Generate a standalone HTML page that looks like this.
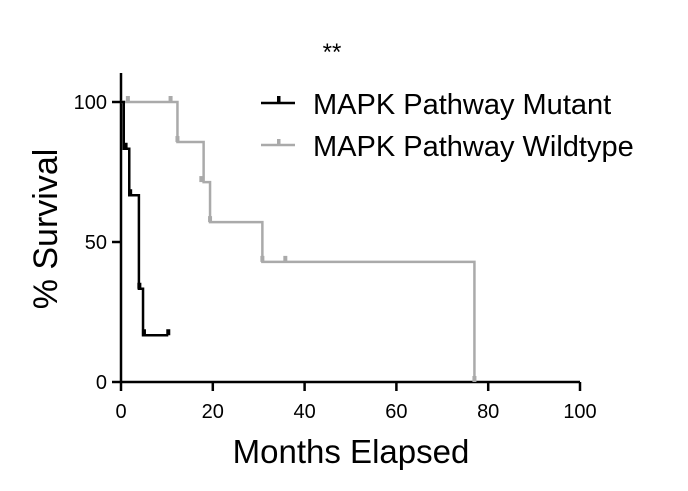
<!DOCTYPE html>
<html><head><meta charset="utf-8"><style>
body{margin:0;background:#fff;}
svg{display:block;font-family:"Liberation Sans",Arial,sans-serif;}
</style></head><body>
<svg width="688" height="491">
<text x="332" y="60" font-size="24" text-anchor="middle">**</text>
<g id="axes"></g>
<g id="plot"></g>
<g>
 <line x1="261" y1="103" x2="295" y2="103" stroke="#000" stroke-width="2.5"/>
 <rect x="277" y="96" width="3.5" height="7" fill="#000"/>
 <text x="313" y="114" font-size="29">MAPK Pathway Mutant</text>
 <line x1="261" y1="145" x2="295" y2="145" stroke="#aaa" stroke-width="2.5"/>
 <rect x="277" y="139" width="3.5" height="6" fill="#aaa"/>
 <text x="313" y="156" font-size="29">MAPK Pathway Wildtype</text>
</g>
<text transform="translate(57,229) rotate(-90)" font-size="34" text-anchor="middle">% Survival</text>
<text x="351" y="463" font-size="33" text-anchor="middle">Months Elapsed</text>
</svg>
<script>
const xTicks=[0,20,40,60,80,100];
const yTicks=[0,50,100];
const mutTimes=[0,0.6,1.8,3.9,4.8,10.3];
const mutSurv=[100,83.3,66.7,33.3,16.7,16.7];
const mutCensorT=[1,2,4,5,10.3];
const mutCensorS=[83.3,66.7,33.3,16.7,16.7];
const wtTimes=[0,12.3,18.0,19.4,30.8,77,77];
const wtSurv=[100,85.7,71.4,57.1,42.9,42.9,0];
const wtCensorT=[1.5,10.8,12.3,17.5,19.4,30.8,35.8,77];
const wtCensorS=[100,100,85.7,71.4,57.1,42.9,42.9,0];
const X=v=>121+v*4.59, Y=v=>382-v*2.8;
const NS="http://www.w3.org/2000/svg";
const axes=document.getElementById('axes'), plot=document.getElementById('plot');
function mk(tag,attrs,parent){const e=document.createElementNS(NS,tag);for(const k in attrs)e.setAttribute(k,attrs[k]);parent.appendChild(e);return e;}
let a=mk('line',{x1:X(0),y1:Y(0),x2:X(100),y2:Y(0),stroke:'#000','stroke-width':2.5},axes);


a=mk('line',{x1:X(0),y1:73,x2:X(0),y2:Y(0),stroke:'#000','stroke-width':2.5},axes);


xTicks.forEach(t=>{mk('line',{x1:X(t),y1:Y(0),x2:X(t),y2:Y(0)+9,stroke:'#000','stroke-width':2.5},axes);
 const tx=mk('text',{x:X(t),y:418,'font-size':20,'text-anchor':'middle'},axes);tx.textContent=t;
 
 });
yTicks.forEach(t=>{mk('line',{x1:X(0)-9,y1:Y(t),x2:X(0),y2:Y(t),stroke:'#000','stroke-width':2.5},axes);
 const tx=mk('text',{x:X(0)-14,y:Y(t)+7,'font-size':20,'text-anchor':'end'},axes);tx.textContent=t;
 
 });
function series(times,surv,ct,cs,color,name){
 let d='M'+X(times[0])+','+Y(surv[0]);
 for(let i=1;i<times.length;i++){d+=' H'+X(times[i])+' V'+Y(surv[i]);}
 const p=mk('path',{d:d,fill:'none',stroke:color,'stroke-width':2.5},plot);
 
 
 ct.forEach((t,i)=>{const r=mk('rect',{x:X(t)-2,y:Y(cs[i])-6,width:4,height:6,fill:color},plot);
  
  });
}
series(wtTimes,wtSurv,wtCensorT,wtCensorS,'#aaa','wildtype');
series(mutTimes,mutSurv,mutCensorT,mutCensorS,'#000','mutant');
</script>
</body></html>
